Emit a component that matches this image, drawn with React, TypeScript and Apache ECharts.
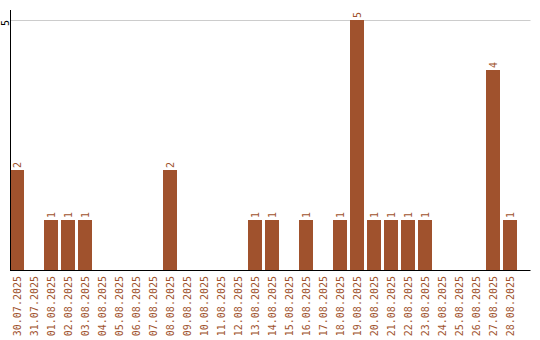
import React, { useEffect, useRef } from "react";
import * as echarts from "echarts";

const categories = [
  "30.07.2025", "31.07.2025", "01.08.2025", "02.08.2025", "03.08.2025",
  "04.08.2025", "05.08.2025", "06.08.2025", "07.08.2025", "08.08.2025",
  "09.08.2025", "10.08.2025", "11.08.2025", "12.08.2025", "13.08.2025",
  "14.08.2025", "15.08.2025", "16.08.2025", "17.08.2025", "18.08.2025",
  "19.08.2025", "20.08.2025", "21.08.2025", "22.08.2025", "23.08.2025",
  "24.08.2025", "25.08.2025", "26.08.2025", "27.08.2025", "28.08.2025",
];
const counts = [
  2, 0, 1, 1, 1,
  0, 0, 0, 0, 2,
  0, 0, 0, 0, 1,
  1, 0, 1, 0, 1,
  5, 1, 1, 1, 1,
  0, 0, 0, 4, 1,
];
const yTicks = [0, 5];

const BROWN = "#a0522d";
const FONT = "DejaVu Sans Mono";

export default function App() {
  const ref = useRef<HTMLDivElement>(null);
  useEffect(() => {
    if (!ref.current) return;
    const chart = echarts.init(ref.current, null, { renderer: "svg" });
    chart.setOption({
      animation: false,
      grid: {
        left: 8.5,
        top: 20,
        width: 510,
        height: 250,
        containLabel: false,
        outerBoundsMode: "none",
      },
      xAxis: {
        type: "category",
        data: categories,
        axisLine: { show: false },
        axisTick: { show: false },
        axisLabel: {
          rotate: 90,
          interval: 0,
          color: BROWN,
          fontFamily: FONT,
          fontSize: 10,
          margin: 6,
        },
      },
      yAxis: {
        type: "value",
        min: yTicks[0],
        max: yTicks[1],
        interval: 5,
        axisLine: { show: false },
        axisTick: { show: false },
        splitLine: { show: false },
        axisLabel: {
          rotate: 90,
          color: "#000",
          fontFamily: FONT,
          fontSize: 10,
          lineHeight: 8,
          align: "right",
          verticalAlign: "bottom",
          margin: -0.5,
          formatter: (v: number) => (v === 0 ? "" : String(v)),
        },
      },
      graphic: [
        { type: "line", shape: { x1: 10.5, y1: 20.5, x2: 530.5, y2: 20.5 }, style: { stroke: "#cccccc", lineWidth: 1 }, z: 0 },
        { type: "line", shape: { x1: 10.5, y1: 10, x2: 10.5, y2: 270 }, style: { stroke: "#000", lineWidth: 1 }, z: 10 },
        { type: "line", shape: { x1: 10, y1: 270.5, x2: 530.5, y2: 270.5 }, style: { stroke: "#000", lineWidth: 1 }, z: 10 },
      ],
      series: [
        {
          type: "bar",
          data: counts,
          barWidth: 14,
          itemStyle: { color: BROWN },
          label: {
            show: true,
            position: "top",
            rotate: 90,
            align: "left",
            verticalAlign: "middle",
            distance: 2,
            color: BROWN,
            fontFamily: FONT,
            fontSize: 10,
            formatter: (p: any) => (p.value ? String(p.value) : ""),
          },
        },
      ],
    });
    return () => chart.dispose();
  }, []);
  return <div ref={ref} style={{ width: 540, height: 340, position: "absolute", left: 0, top: 0 }} />;
}
